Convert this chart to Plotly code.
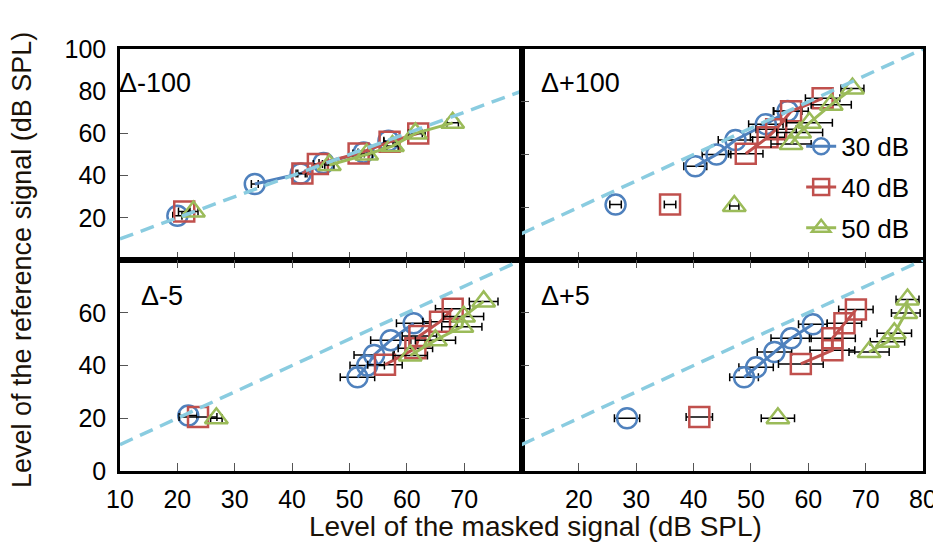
import plotly.graph_objects as go
from plotly.subplots import make_subplots

# ---------------- data ----------------
series_names = ["30 dB", "40 dB", "50 dB"]
colors = ["#4F81BD", "#C0504D", "#9BBB59"]
symbols = ["circle-open", "square-open", "triangle-up-open"]

# Panel Δ-100 (top-left)
m100_x = [[33.5, 41.5, 45.5, 52.5, 56.8], [41.8, 44.5, 51.6, 57.0, 62.0], [46.5, 53.0, 57.5, 61.5, 68.0]]
m100_y = [[36.0, 41.0, 46.0, 51.0, 56.5], [41.0, 45.5, 50.5, 56.0, 60.0], [45.0, 50.0, 54.0, 60.0, 65.0]]
m100_e = [[0.6, 0.8, 0.8, 1.0, 0.8], [0.8, 0.8, 1.0, 1.0, 1.2], [0.8, 1.0, 1.0, 1.2, 1.0]]
m100_iso_x = [20.0, 21.2, 22.8]
m100_iso_y = [21.0, 23.0, 23.0]
m100_iso_e = [0.8, 1.0, 0.8]

# Panel Δ+100 (top-right)
p100_x = [[40.3, 44.0, 47.3, 52.6, 56.4], [49.1, 52.9, 54.4, 57.0, 62.5], [57.0, 58.5, 60.2, 64.0, 67.7]]
p100_y = [[35.5, 40.0, 45.5, 51.5, 56.5], [40.3, 46.5, 49.6, 56.4, 61.3], [44.0, 48.3, 52.0, 58.9, 65.0]]
p100_e = [[2.0, 2.5, 3.0, 3.0, 2.5], [3.0, 3.0, 3.5, 3.0, 3.0], [3.5, 4.0, 4.0, 3.5, 2.0]]
p100_iso_x = [26.4, 35.9, 47.1]
p100_iso_y = [21.0, 21.0, 20.5]
p100_iso_e = [1.0, 1.0, 0.8]

# Panel Δ-5 (bottom-left)
m5_x = [[51.4, 53.1, 54.3, 57.2, 61.2], [56.2, 61.5, 62.2, 65.8, 68.0], [60.6, 65.0, 69.6, 69.9, 73.4]]
m5_y = [[35.5, 40.0, 44.0, 49.6, 56.0], [40.3, 46.5, 51.2, 56.6, 61.5], [43.8, 49.6, 54.7, 58.6, 64.3]]
m5_e = [[3.0, 3.0, 3.5, 3.5, 3.0], [3.0, 3.0, 3.0, 3.0, 3.0], [3.0, 3.5, 3.5, 3.5, 2.5]]
m5_iso_x = [21.9, 23.6, 26.8]
m5_iso_y = [21.0, 20.5, 20.0]
m5_iso_e = [1.5, 3.3, 1.0]

# Panel Δ+5 (bottom-right)
p5_x = [[48.8, 50.9, 54.1, 57.0, 60.8], [58.7, 64.2, 64.2, 66.3, 68.3], [70.6, 73.8, 75.0, 77.0, 77.3]]
p5_y = [[35.5, 39.3, 45.1, 50.3, 55.6], [40.6, 45.8, 50.3, 56.0, 61.2], [45.1, 49.0, 52.2, 59.9, 65.0]]
p5_e = [[2.5, 3.0, 3.0, 3.5, 2.5], [3.9, 3.9, 4.0, 3.0, 3.0], [3.5, 3.0, 3.0, 2.5, 2.0]]
p5_iso_x = [28.4, 41.0, 54.7]
p5_iso_y = [20.0, 20.5, 20.0]
p5_iso_e = [2.2, 2.3, 2.9]

identity = [10, 80]

panel_labels = ["Δ-100", "Δ+100", "Δ-5", "Δ+5"]
x_ticks_left = [10, 20, 30, 40, 50, 60, 70]
x_ticks_right = [20, 30, 40, 50, 60, 70, 80]
y_ticks_top = [20, 40, 60, 80, 100]
y_ticks_bottom = [0, 20, 40, 60]

FONT = "Liberation Sans, Arial, sans-serif"

fig = make_subplots(rows=2, cols=2, horizontal_spacing=0, vertical_spacing=0)

panels = [
    (1, 1, m100_x, m100_y, m100_e, m100_iso_x, m100_iso_y, m100_iso_e),
    (1, 2, p100_x, p100_y, p100_e, p100_iso_x, p100_iso_y, p100_iso_e),
    (2, 1, m5_x, m5_y, m5_e, m5_iso_x, m5_iso_y, m5_iso_e),
    (2, 2, p5_x, p5_y, p5_e, p5_iso_x, p5_iso_y, p5_iso_e),
]

MS = 20
for (r, c, xs, ys, es, ix, iy, ie) in panels:
    for k in range(3):
        fig.add_trace(go.Scatter(
            x=[ix[k]], y=[iy[k]], mode="markers",
            marker=dict(symbol=symbols[k], size=MS, color=colors[k], line=dict(width=2.5, color=colors[k])),
            error_x=dict(type="data", array=[ie[k]], color="black", thickness=1.5, width=4),
            showlegend=False, hoverinfo="skip"), row=r, col=c)
    for k in range(3):
        fig.add_trace(go.Scatter(
            x=xs[k], y=ys[k], mode="lines+markers", name=series_names[k],
            line=dict(color=colors[k], width=3),
            marker=dict(symbol=symbols[k], size=MS, color=colors[k], line=dict(width=2.5, color=colors[k])),
            error_x=dict(type="data", array=es[k], color="black", thickness=1.5, width=4),
            legendgroup=series_names[k],
            showlegend=(r == 1 and c == 2)), row=r, col=c)
    fig.add_trace(go.Scatter(
        x=identity, y=identity, mode="lines",
        line=dict(color="#8ACCE0", width=3.5, dash="14px,8px"),
        showlegend=False, hoverinfo="skip"), row=r, col=c)

axis_common = dict(showgrid=False, zeroline=False, showline=True, linecolor="black", linewidth=2.5,
                   ticks="inside", ticklen=8, tickcolor="#555555", tickwidth=1.2,
                   tickfont=dict(family=FONT, size=25, color="black"))

for r in (1, 2):
    for c in (1, 2):
        fig.update_xaxes(range=[10, 80], mirror=("ticks" if r == 2 else True),
                         tickvals=(x_ticks_left if c == 1 else x_ticks_right),
                         showticklabels=(r == 2), ticklabelstandoff=4,
                         row=r, col=c, **axis_common)
        if r == 1 and c == 1:
            yr, yt = [0, 100], y_ticks_top
        else:
            yr, yt = [0, 80], (y_ticks_bottom if r == 2 else [20, 40, 60])
        fig.update_yaxes(range=yr, tickvals=yt, mirror=True,
                         showticklabels=(c == 1), ticklabelstandoff=6,
                         row=r, col=c, **axis_common)

annots = []
refs = {(1, 1): ("x", "y"), (1, 2): ("x2", "y2"), (2, 1): ("x3", "y3"), (2, 2): ("x4", "y4")}
pos = {(1, 1): (-0.008, 0.84), (1, 2): (0.043, 0.84), (2, 1): (0.048, 0.83), (2, 2): (0.043, 0.83)}
for i, key in enumerate([(1, 1), (1, 2), (2, 1), (2, 2)]):
    xr, yr = refs[key]
    px, py = pos[key]
    annots.append(dict(text=panel_labels[i], xref=xr + " domain", yref=yr + " domain", x=px, y=py,
                       xanchor="left", yanchor="middle", showarrow=False,
                       font=dict(family=FONT, size=27, color="black")))

annots.append(dict(text="Level of the masked signal (dB SPL)", xref="paper", yref="paper",
                   x=0.518, y=-0.131, xanchor="center", yanchor="middle", showarrow=False,
                   font=dict(family=FONT, size=28, color="#1a1208")))
annots.append(dict(text="Level of the reference signal (dB SPL)", xref="paper", yref="paper",
                   x=-0.122, y=0.5, xanchor="center", yanchor="middle", textangle=-90, showarrow=False,
                   font=dict(family=FONT, size=27, color="#1a1208")))

fig.update_layout(
    width=941, height=549,
    margin=dict(l=112, r=24, t=41, b=86),
    paper_bgcolor="white", plot_bgcolor="white",
    annotations=annots,
    legend=dict(x=0.989, xanchor="right", y=0.825, yanchor="top", bgcolor="rgba(0,0,0,0)",
                font=dict(family=FONT, size=26, color="black"), tracegroupgap=4,
                traceorder="grouped", itemsizing="trace"),
)

fig.write_html("out.html")
